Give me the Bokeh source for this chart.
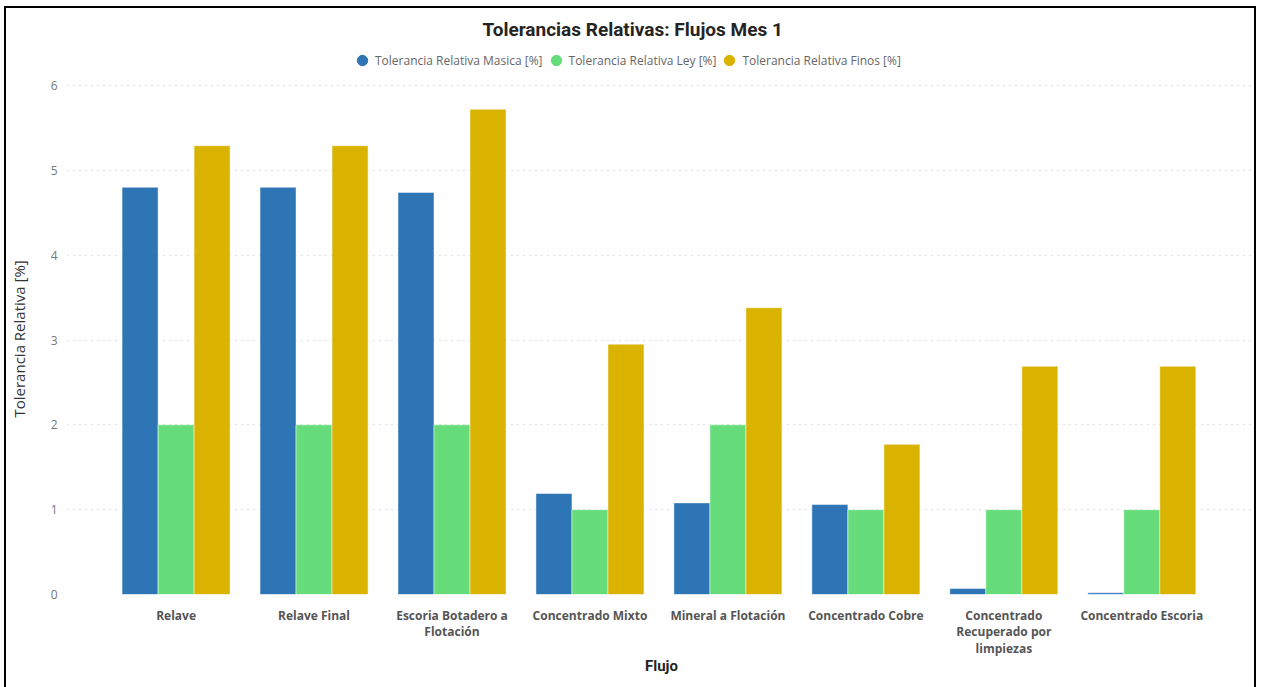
from bokeh.plotting import figure
from bokeh.models import ColumnDataSource, Range1d, Legend, LegendItem, FixedTicker, Title
from bokeh.transform import dodge
from bokeh.embed import file_html
from bokeh.resources import INLINE

# ---- data ----
categories = ["Relave", "Relave Final", "Escoria Botadero a Flotación", "Concentrado Mixto",
              "Mineral a Flotación", "Concentrado Cobre", "Concentrado Recuperado por limpiezas",
              "Concentrado Escoria"]
tick_labels = ["Relave", "Relave Final", "Escoria Botadero a\nFlotación", "Concentrado Mixto",
               "Mineral a Flotación", "Concentrado Cobre", "Concentrado\nRecuperado por\nlimpiezas",
               "Concentrado Escoria"]
masica = [4.80, 4.80, 4.74, 1.19, 1.08, 1.06, 0.07, 0.02]
ley = [2.0, 2.0, 2.0, 1.0, 2.0, 1.0, 1.0, 1.0]
finos = [5.29, 5.29, 5.72, 2.95, 3.38, 1.77, 2.69, 2.69]
series_names = ["Tolerancia Relativa Masica [%]", "Tolerancia Relativa Ley [%]",
                "Tolerancia Relativa Finos [%]"]
colors = ["#2e75b6", "#66dd7a", "#d9b300"]
y_ticks = [0, 1, 2, 3, 4, 5, 6]
title_text = "Tolerancias Relativas: Flujos Mes 1"
x_title = "Flujo"
y_title = "Tolerancia Relativa [%]"

xpos = list(range(len(categories)))
source = ColumnDataSource(dict(x=xpos, cat=categories, masica=masica, ley=ley, finos=finos))

pad_left, pad_right = 0.287, 0.324
# frame top sits 40px above the "6" gridline so the legend can live there
y_top = 6 + 40 / 84.83
p = figure(x_range=Range1d(-0.5 - pad_left, len(categories) - 0.5 + pad_right),
           y_range=Range1d(0, y_top),
           width=1252, height=684, output_backend="svg", toolbar_location=None,
           min_border_left=59, min_border_right=3, min_border_top=37, min_border_bottom=98)
p.margin = (6, 0, 0, 4)
p.styles = {"border": "2px solid black"}
p.outline_line_color = None
p.background_fill_color = "white"
p.border_fill_color = "white"

bw = 0.261
fields = ["masica", "ley", "finos"]
offsets = [-bw, 0.0, bw]
for f, off, c in zip(fields, offsets, colors):
    p.vbar(x=dodge("x", off), top=f, width=bw, source=source,
           fill_color=c, line_color="white", line_alpha=0.6, line_width=0.8)

# legend proxies (not visible in the plot area)
items = []
for name, c in zip(series_names, colors):
    r = p.scatter(x=[0], y=[float("nan")], marker="circle", size=10, fill_color=c, line_color=c)
    items.append(LegendItem(label=name, renderers=[r]))
legend = Legend(items=items, orientation="horizontal", location=(282, 521),
                glyph_width=26, glyph_height=26, label_standoff=0, spacing=0,
                padding=0, margin=0, border_line_color=None, background_fill_alpha=0,
                label_height=26,
                label_text_font="Open Sans", label_text_font_size="12px", label_text_color="#666666")
p.add_layout(legend, "center")

p.title.text = title_text
p.title.align = "left"
p.title.offset = 415
p.title.text_font = "Roboto"
p.title.text_font_size = "19px"
p.title.text_font_style = "bold"
p.title.text_color = "#252423"

# y-axis title as a side Title so it can be centred on the 0..6 span
ytitle = Title(text=y_title, align="left", offset=177, standoff=0,
               text_font="Open Sans", text_font_size="15px", text_font_style="normal",
               text_color="#333333")
p.add_layout(ytitle, "left")

p.xgrid.grid_line_color = None
p.ygrid.grid_line_color = "#c0c0c0"
p.ygrid.grid_line_dash = "1 5"
p.ygrid.grid_line_width = 1
p.yaxis.ticker = FixedTicker(ticks=y_ticks)
p.xaxis.ticker = FixedTicker(ticks=xpos)

for ax in (p.xaxis[0], p.yaxis[0]):
    ax.axis_line_color = None
    ax.major_tick_line_color = None
    ax.minor_tick_line_color = None
    ax.major_tick_out = 0
    ax.minor_tick_out = 0
    ax.major_tick_in = 0
    ax.minor_tick_in = 0

p.yaxis.major_label_text_font = "Open Sans"
p.yaxis.major_label_text_font_size = "12px"
p.yaxis.major_label_text_color = "#777777"
p.yaxis.major_label_standoff = 10
# blank spacer label keeps the side title clear of the tick labels
p.yaxis.axis_label = " "
p.yaxis.axis_label_text_font_size = "10px"
p.yaxis.axis_label_standoff = 5

p.xaxis.major_label_overrides = dict(zip(xpos, tick_labels))
p.xaxis.major_label_text_font = "Open Sans"
p.xaxis.major_label_text_font_size = "12px"
p.xaxis.major_label_text_font_style = "bold"
p.xaxis.major_label_text_color = "#555555"
p.xaxis.major_label_text_line_height = 0.98
p.xaxis.major_label_standoff = 12
p.xaxis.axis_label = x_title
p.xaxis.axis_label_text_font = "Roboto"
p.xaxis.axis_label_text_font_size = "15px"
p.xaxis.axis_label_text_font_style = "bold"
p.xaxis.axis_label_text_color = "#252423"
p.xaxis.axis_label_standoff = -3

open("out.html", "w").write(file_html(p, INLINE))
